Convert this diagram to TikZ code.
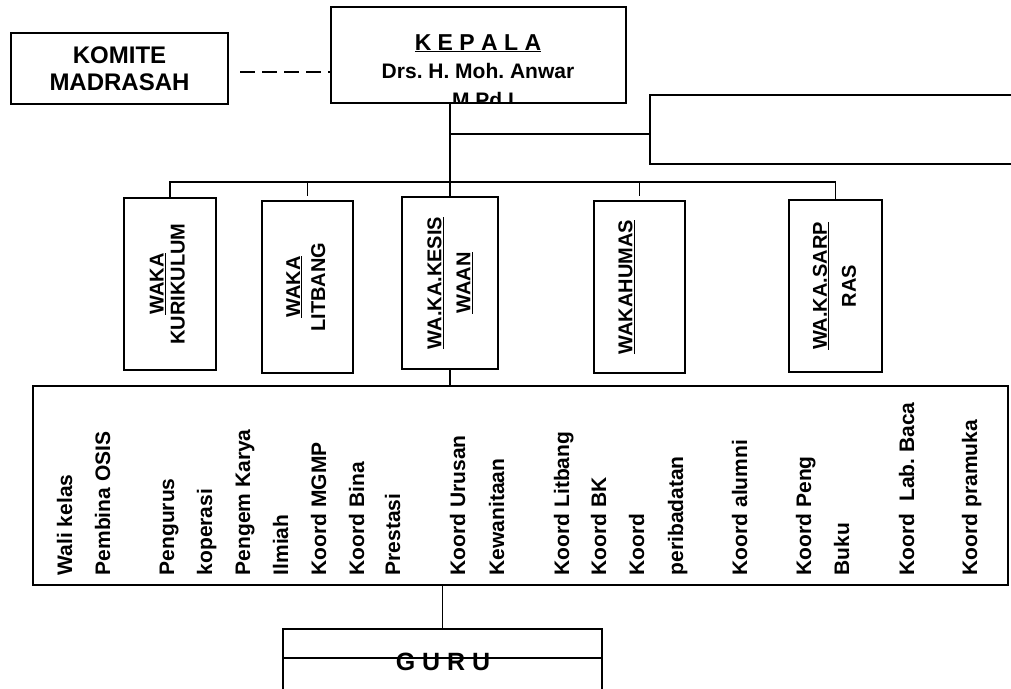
\documentclass[tikz,border=0pt]{standalone}
\usepackage{fontspec}
\setmainfont{Liberation Sans}
\usepackage{graphicx}
\usetikzlibrary{positioning}
\frenchspacing
\newcommand{\wakalabel}[2]{\rotatebox{90}{\begin{tabular}{@{}c@{}}#1\\#2\end{tabular}}}

\begin{document}
\begin{tikzpicture}[x=1pt, y=-1pt, line width=1.5pt,
    box/.style={draw, line width=1.8pt, inner sep=0pt, font=\bfseries},
    wakabox/.style={box, minimum width=92pt, minimum height=172pt, font=\fontsize{20}{24}\selectfont\bfseries},
    tugasteks/.style={rotate=90, anchor=base west, inner sep=0pt, font=\fontsize{21}{24}\selectfont\bfseries}]
    \useasboundingbox (0,0) rectangle (1011,688);
    % pimpinan
    \node[box, minimum width=217pt, minimum height=71pt, align=center, font=\fontsize{24}{27}\selectfont\bfseries] (komite) at (119.5,68.5) {KOMITE\\MADRASAH};
    \node[box, minimum width=295pt, minimum height=96pt] (kepala) at (478.5,55) {};
    \node[anchor=base, font=\fontsize{23}{27}\selectfont\bfseries] (jabatan) at (478,50) {\underline{K E P A L A}};
    \node[anchor=base, font=\fontsize{21}{27}\selectfont\bfseries] (nama) at (478,78) {Drs. H. Moh. Anwar};
    \begin{scope}
        \clip (kepala.north west) rectangle ([yshift=2pt]kepala.south east);
        \node[anchor=base, font=\fontsize{21}{27}\selectfont\bfseries] (gelar) at (483,107.5) {M.Pd.I};
    \end{scope}
    \coordinate (putus) at (240,72);
    \draw[dash pattern=on 15pt off 7pt] (putus) -- (putus -| kepala.west);
    \node[box, minimum width=380pt, minimum height=69pt, anchor=north west] (staf) at (649,94) {};
    % wakil kepala
    \node[wakabox, font=\fontsize{20}{21}\selectfont\bfseries] (kurikulum) at (170,284) {\wakalabel{\underline{WAKA}}{KURIKULUM}};
    \node[wakabox, minimum width=91pt, font=\fontsize{20}{25}\selectfont\bfseries] (litbang) at (307.5,287) {\wakalabel{\underline{WAKA}}{LITBANG}};
    \node[wakabox, minimum width=96pt, font=\fontsize{20}{29}\selectfont\bfseries] (kesiswaan) at (450,283) {\wakalabel{\underline{WA.KA.KESIS}}{\underline{WAAN}}};
    \node[wakabox, minimum width=91pt] (humas) at (639.5,287) {\wakalabel{\underline{WAKAHUMAS}}{\mbox{}}};
    \node[wakabox, minimum width=93pt, font=\fontsize{20}{29}\selectfont\bfseries] (sarpras) at (835.5,286) {\wakalabel{\underline{WA.KA.SARP}}{RAS}};
    \coordinate (cabang) at (450,134);
    \coordinate (bus) at (450,182);
    \draw (kepala.south -| kesiswaan.north) -- (kesiswaan.north);
    \draw (cabang) -- (cabang -| staf.west);
    \draw (kurikulum.north) |- (bus) -| (sarpras.north);
    \draw[shorten >=4pt] (bus -| litbang.north) -- (litbang.north);
    \draw[shorten >=4pt] (bus -| humas.north) -- (humas.north);
    % tugas tambahan
    \node[box, minimum width=975pt, minimum height=199pt] (tugas) at (520.5,485.5) {};
    \draw (kesiswaan.south) -- (kesiswaan.south |- tugas.north);
    \foreach \x/\teks in {65/Wali kelas, 103/Pembina OSIS, 167/Pengurus, 205/koperasi,
        243/Pengem Karya, 281/Ilmiah, 319/Koord MGMP, 357/Koord Bina, 393/Prestasi,
        458/Koord Urusan, 497/Kewanitaan, 562/Koord Litbang, 599/Koord BK, 637/Koord,
        676/peribadatan, 740/Koord alumni, 804/Koord Peng, 842/Buku,
        907/Koord~ Lab. Baca, 970/Koord pramuka}
        \node[tugasteks] (t\x) at (\x+7,576) {\teks};
    % guru
    \node[box, minimum width=319pt, minimum height=100pt, anchor=north] (guru) at (442.5,628) {};
    \draw ([yshift=-30pt]guru.north west) -- ([yshift=-30pt]guru.north east);
    \node[anchor=base, font=\fontsize{25}{30}\selectfont\bfseries] (gurulabel) at (443,670) {G U R U};
    \draw (tugas.south -| guru.north) -- (guru.north);
\end{tikzpicture}
\end{document}
